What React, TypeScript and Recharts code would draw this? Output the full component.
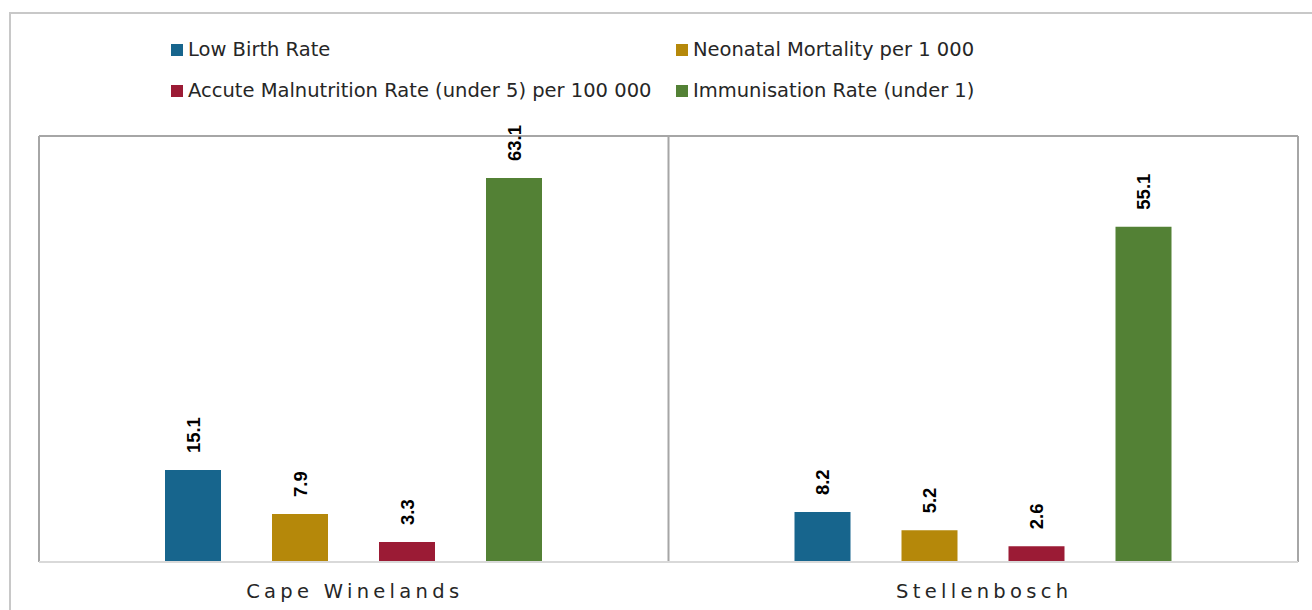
import { BarChart, Bar, XAxis, YAxis, CartesianGrid, Legend, LabelList } from 'recharts';

const categories = ["Cape Winelands", "Stellenbosch"];
const lowBirthRate = [15.1, 8.2];
const neonatalMortality = [7.9, 5.2];
const malnutritionRate = [3.3, 2.6];
const immunisationRate = [63.1, 55.1];

const seriesNames = [
  "Low Birth Rate",
  "Neonatal Mortality per 1 000",
  "Accute Malnutrition Rate (under 5) per 100 000",
  "Immunisation Rate (under 1)",
];

const data = categories.map((name, i) => ({
  name,
  lowBirth: lowBirthRate[i],
  neonatal: neonatalMortality[i],
  malnutrition: malnutritionRate[i],
  immunisation: immunisationRate[i],
}));

const FONT = '"DejaVu Sans", sans-serif';

const RotatedLabel = (props: any) => {
  const { x, y, width, value } = props;
  const cx = x + width / 2;
  return (
    <text
      transform={`translate(${cx}, ${y - 17}) rotate(-90)`}
      textAnchor="start"
      dominantBaseline="central"
      fontFamily='"Liberation Sans", sans-serif'
      fontWeight="bold"
      fontSize={18.5}
      fill="#000"
    >
      {value}
    </text>
  );
};

const CategoryTick = (props: any) => {
  const { x, y, payload } = props;
  return (
    <text
      x={x + 1}
      y={y + 36}
      textAnchor="middle"
      fontFamily={FONT}
      fontSize={19.5}
      letterSpacing={4.3}
      fill="#262626"
    >
      {payload.value}
    </text>
  );
};

const renderLegend = (props: any) => {
  // keep the series order, not alphabetical
  const items = [...(props.payload || [])].sort(
    (a: any, b: any) => seriesNames.indexOf(a.value) - seriesNames.indexOf(b.value)
  );
  return (
    <div
      style={{
        display: 'grid',
        gridTemplateColumns: '505px 500px',
        paddingLeft: 171,
        paddingTop: 29,
        fontFamily: FONT,
        fontSize: 19.5,
        color: '#262626',
      }}
    >
      {items.map((entry: any) => (
        <div
          key={entry.value}
          style={{ display: 'flex', alignItems: 'center', height: 41, lineHeight: '41px', whiteSpace: 'nowrap' }}
        >
          <span style={{ width: 12, height: 12, background: entry.color, marginRight: 5, display: 'inline-block' }} />
          {entry.value}
        </div>
      ))}
    </div>
  );
};

export default function App() {
  return (
    <div style={{ position: 'absolute', left: 0, top: 0, width: 1312, height: 610, overflow: 'hidden', background: '#fff' }}>
      <div
        style={{
          position: 'absolute',
          left: 9,
          top: 12,
          width: 1400,
          height: 700,
          border: '2px solid #c8c8c8',
        }}
      />
      <div style={{ position: 'absolute', left: 0, top: 0 }}>
        <BarChart
          width={1312}
          height={610}
          data={data}
          margin={{ top: 136, right: 14, left: 39, bottom: 0 }}
          barSize={56}
          barGap={51}
        >
          <CartesianGrid
            stroke="#a6a6a6"
            strokeWidth={2}
            horizontalCoordinatesGenerator={({ offset }: any) => [offset.top]}
            verticalCoordinatesGenerator={({ offset }: any) => [
              offset.left,
              offset.left + offset.width / 2,
              offset.left + offset.width,
            ]}
          />
          <XAxis
            dataKey="name"
            height={48}
            tickLine={false}
            tickSize={0}
            tickMargin={0}
            axisLine={{ stroke: '#d9d9d9', strokeWidth: 2 }}
            tick={<CategoryTick />}
            interval={0}
          />
          <YAxis hide domain={[0, 70]} />
          <Legend
            layout="vertical"
            align="center"
            verticalAlign="middle"
            itemSorter={null as any}
            content={renderLegend}
            wrapperStyle={{ position: 'absolute', top: 0, left: 0, width: 1312, height: 136 }}
          />
          <Bar dataKey="lowBirth" name={seriesNames[0]} fill="#17658D" isAnimationActive={false}>
            <LabelList dataKey="lowBirth" content={<RotatedLabel />} />
          </Bar>
          <Bar dataKey="neonatal" name={seriesNames[1]} fill="#B5880A" isAnimationActive={false}>
            <LabelList dataKey="neonatal" content={<RotatedLabel />} />
          </Bar>
          <Bar dataKey="malnutrition" name={seriesNames[2]} fill="#9B1B35" isAnimationActive={false}>
            <LabelList dataKey="malnutrition" content={<RotatedLabel />} />
          </Bar>
          <Bar dataKey="immunisation" name={seriesNames[3]} fill="#538135" isAnimationActive={false}>
            <LabelList dataKey="immunisation" content={<RotatedLabel />} />
          </Bar>
        </BarChart>
      </div>
    </div>
  );
}
